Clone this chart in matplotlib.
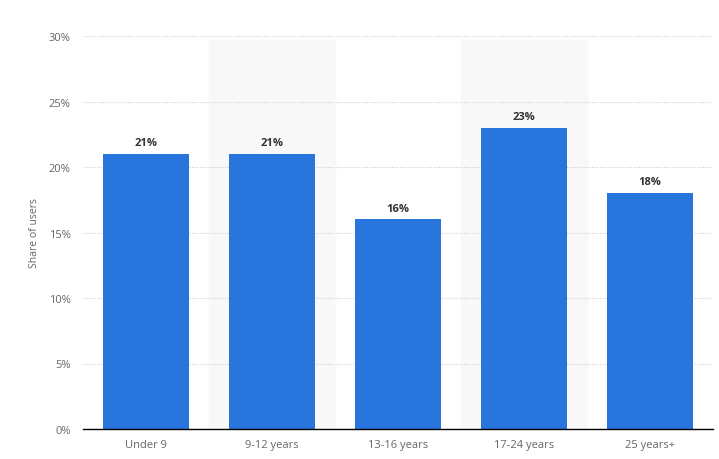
import matplotlib
matplotlib.use("Agg")
import matplotlib.pyplot as plt

categories = ["Under 9", "9-12 years", "13-16 years", "17-24 years", "25 years+"]
shares = [21, 21, 16, 23, 18]
yticks = [0, 5, 10, 15, 20, 25, 30]

plt.rcParams['font.family'] = ['Open Sans', 'DejaVu Sans']

fig = plt.figure(figsize=(7.19, 4.6), dpi=100)
ax = fig.add_axes([83 / 719, 30 / 460, 630 / 719, 393 / 460])

x = range(len(categories))
# alternating light bands behind every second category
for i in x:
    if i % 2 == 1:
        ax.axvspan(i - 0.5, i + 0.5, ymax=0.99, color="#f8f8f8", zorder=0)

bars = ax.bar(x, shares, width=0.69, color="#2876dd", zorder=3)
for b, v in zip(bars, shares):
    ax.text(b.get_x() + b.get_width() / 2, v + 0.45, f"{v}%", ha="center", va="bottom",
            fontsize=8, fontweight="bold", color="#333333", zorder=4)

ax.set_xlim(-0.5, len(categories) - 0.5)
ax.set_ylim(0, 30)
ax.set_yticks(yticks)
ax.set_yticklabels([f"{t}%" for t in yticks])
ax.set_xticks(list(x))
ax.set_xticklabels(categories)
ax.tick_params(axis="both", length=0, labelsize=8, colors="#666666")
ax.tick_params(axis="y", pad=9)
ax.tick_params(axis="x", pad=7)

ax.yaxis.grid(True, linestyle=(0, (1, 1.5)), color="#cccccc", linewidth=0.8, zorder=1)
ax.set_axisbelow(True)
for s in ["top", "right", "left"]:
    ax.spines[s].set_visible(False)
ax.spines["bottom"].set_color("#000000")
ax.spines["bottom"].set_linewidth(1)
ax.spines["bottom"].set_zorder(5)

ax.set_ylabel("Share of users", fontsize=7.5, color="#666666", labelpad=6)

fig.savefig("out.png", dpi=100, facecolor="white")
